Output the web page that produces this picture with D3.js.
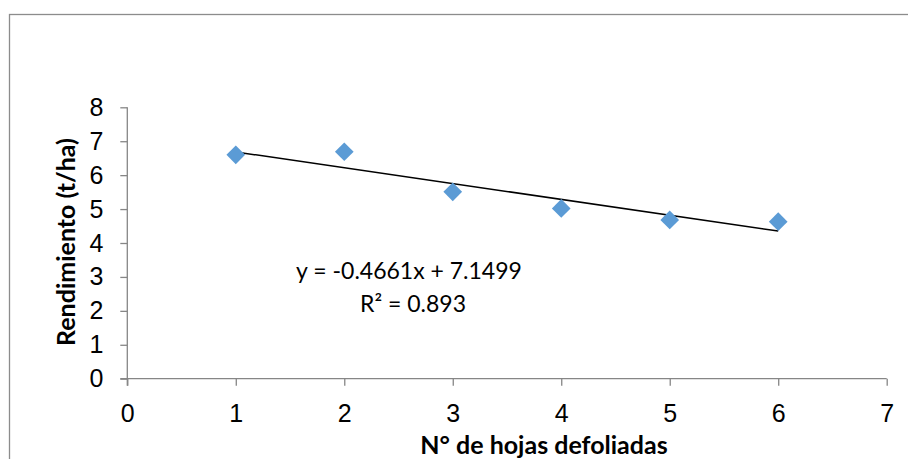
<!DOCTYPE html>
<html>
<head>
<meta charset="utf-8">
<script src="https://cdn.jsdelivr.net/npm/d3@7"></script>
<style>
  body { margin: 0; background: #fff; }
  svg { display: block; font-family: Lato, "Open Sans", sans-serif; }
  .axis path, .axis line { stroke: #868686; stroke-width: 1.3; }
  .axis text { fill: #000; font-size: 25px; }
</style>
</head>
<body>
<svg id="chart" width="908" height="459"></svg>
<script>
// Data
const hojas = [1, 2, 3, 4, 5, 6];
const rendimiento = [6.6, 6.69, 5.51, 5.02, 4.68, 4.63];
const xTicks = [0, 1, 2, 3, 4, 5, 6, 7];
const yTicks = [0, 1, 2, 3, 4, 5, 6, 7, 8];
const trend = { slope: -0.4661, intercept: 7.1499, r2: 0.893 };

const svg = d3.select('#chart');

// Outer chart border (continues past the right and bottom edge)
svg.append('rect')
  .attr('x', 9.5).attr('y', 14.5)
  .attr('width', 920).attr('height', 470)
  .attr('fill', 'none')
  .attr('stroke', '#8c8c8c')
  .attr('stroke-width', 1.3);

// Plot area
const x = d3.scaleLinear().domain([0, 7]).range([127.3, 886.7]);
const y = d3.scaleLinear().domain([0, 8]).range([378.7, 107.3]);

// Axes
svg.append('g')
  .attr('class', 'axis')
  .attr('transform', `translate(0,${y(0)})`)
  .call(d3.axisBottom(x).tickValues(xTicks).tickFormat(d3.format('d'))
    .tickSize(7).tickPadding(19).tickSizeOuter(0))
  .call(g => g.select('.domain').attr('d', `M${x(0) - 7},0H${x(7)}`));

svg.append('g')
  .attr('class', 'axis')
  .attr('transform', `translate(${x(0)},0)`)
  .call(d3.axisLeft(y).tickValues(yTicks).tickFormat(d3.format('d'))
    .tickSize(7).tickPadding(17).tickSizeOuter(0))
  .call(g => g.select('.domain').attr('d', `M0,${y(8)}V${y(0) + 7}`));

// Linear trendline
const trendX = [d3.min(hojas), d3.max(hojas)];
svg.append('line')
  .attr('x1', x(trendX[0]))
  .attr('y1', y(trend.intercept + trend.slope * trendX[0]))
  .attr('x2', x(trendX[1]))
  .attr('y2', y(trend.intercept + trend.slope * trendX[1]))
  .attr('stroke', '#000')
  .attr('stroke-width', 1.5);

// Diamond markers
const diamond = d3.symbol().type(d3.symbolSquare).size(175);
svg.append('g')
  .selectAll('path')
  .data(hojas.map((h, i) => ({ h, r: rendimiento[i] })))
  .enter().append('path')
  .attr('d', diamond)
  .attr('transform', d => `translate(${x(d.h)},${y(d.r)}) rotate(45)`)
  .attr('fill', '#5b9bd5');

// Equation label
const eq = svg.append('text')
  .attr('text-anchor', 'middle')
  .attr('font-size', 23)
  .attr('fill', '#000');
eq.append('tspan')
  .attr('x', 409).attr('y', 279)
  .text(`y = ${trend.slope}x + ${trend.intercept}`);
eq.append('tspan')
  .attr('x', 413).attr('y', 312)
  .text(`R² = ${trend.r2}`);

// Axis titles
svg.append('text')
  .attr('x', 544).attr('y', 454)
  .attr('text-anchor', 'middle')
  .attr('font-size', 25)
  .attr('font-weight', 'bold')
  .text('N° de hojas defoliadas');

svg.append('text')
  .attr('transform', 'translate(75,242) rotate(-90)')
  .attr('text-anchor', 'middle')
  .attr('font-size', 25)
  .attr('font-weight', 'bold')
  .text('Rendimiento (t/ha)');
</script>
</body>
</html>
